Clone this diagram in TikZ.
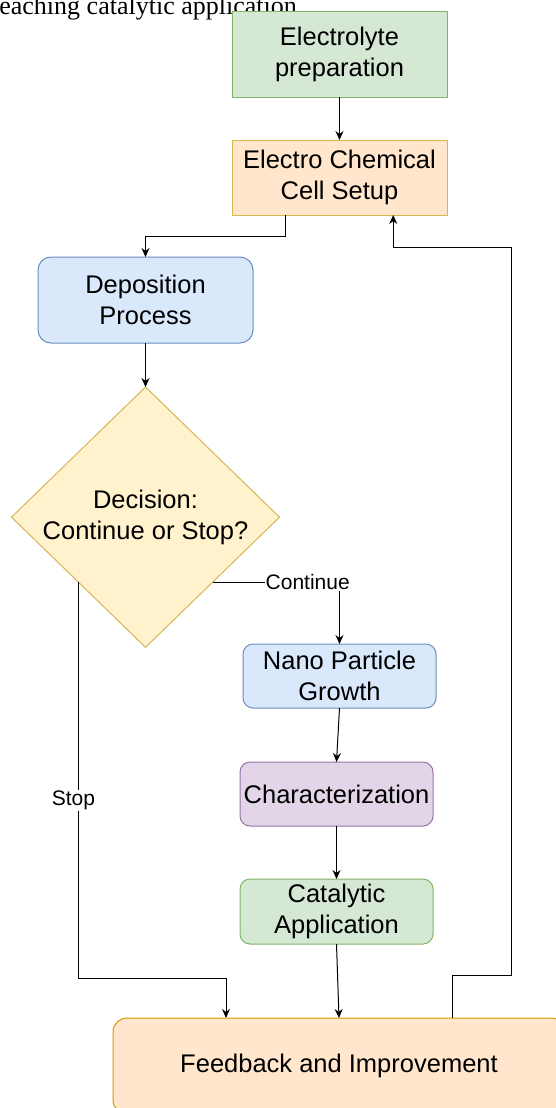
\documentclass[tikz,border=0pt]{standalone}
\usepackage{fontspec}
\setmainfont{Liberation Sans}
\newfontfamily\textserif{Liberation Serif}
\usepackage{tikz}
\usetikzlibrary{shapes.geometric, arrows.meta, positioning, calc}
\definecolor{elgreen}{HTML}{D5E8D4}
\definecolor{elgreenline}{HTML}{82B366}
\definecolor{cellorange}{HTML}{FFE6CC}
\definecolor{cellline}{HTML}{D6B656}
\definecolor{fborange}{HTML}{D79B00}
\definecolor{depblue}{HTML}{DAE8FC}
\definecolor{depblueline}{HTML}{6C8EBF}
\definecolor{decyellow}{HTML}{FFF2CC}
\definecolor{charpurple}{HTML}{E1D5E7}
\definecolor{charline}{HTML}{9673A6}

\begin{document}
\begin{tikzpicture}[
    box/.style={rectangle, draw, line width=1pt, inner sep=2pt, outer sep=0pt,
                align=center, font=\fontsize{25.5pt}{31pt}\selectfont},
    rbox/.style={box, rounded corners=10pt, minimum width=193pt, minimum height=64pt},
    decbox/.style={diamond, draw, line width=1pt, inner sep=0pt, outer sep=0pt,
                align=center, font=\fontsize{25.5pt}{31pt}\selectfont},
    lbl/.style={fill=white, inner sep=1pt, font=\fontsize{21pt}{25pt}\selectfont},
    arrow/.style={line width=1pt, -{Stealth[length=9pt, width=8pt]}}]

\useasboundingbox (0,0) rectangle (556pt,-1108pt);
\clip (0,0) rectangle (556pt,-1108pt);

% Cut-off line of the page above
\node (caption) [anchor=base west, inner sep=0pt, font=\textserif\fontsize{26pt}{30pt}\selectfont]
    at (-9.5pt,-15pt) {reaching catalytic application.};

% Preparation
\node (elec) [box, fill=elgreen, draw=elgreenline, minimum width=215pt, minimum height=85pt]
    at (339.5pt,-54.5pt) {Electrolyte\\preparation};
\node (cell) [box, fill=cellorange, draw=cellline, minimum width=215pt, minimum height=75pt,
    below=43pt of elec] {Electro Chemical\\Cell Setup};

% Deposition and decision
\node (depo) [box, rounded corners=13pt, fill=depblue, draw=depblueline,
    minimum width=215pt, minimum height=86pt, below=42pt of cell, xshift=-194pt]
    {Deposition\\Process};
\node (dec) [decbox, fill=decyellow, draw=cellline, minimum width=268pt, minimum height=256pt,
    below=44pt of depo] {Decision:\\Continue or Stop?};

% Growth chain
\node (nano) [rbox, fill=depblue, draw=depblueline] at (339.5pt,-676pt) {Nano Particle\\Growth};
\node (charac) [rbox, fill=charpurple, draw=charline, below=54pt of nano, xshift=-3pt]
    {Characterization};
\node (catal) [rbox, fill=elgreen, draw=elgreenline, minimum height=65pt, below=53pt of charac]
    {Catalytic\\Application};

% Feedback
\node (feed) [box, rounded corners=14pt, fill=cellorange, draw=fborange,
    minimum width=452pt, minimum height=96pt, below=74pt of catal, xshift=2.5pt]
    {Feedback and Improvement};

\coordinate (cellout) at ($(cell.south west)!0.25!(cell.south east)$);
\coordinate (cellin)  at ($(cell.south west)!0.75!(cell.south east)$);
\coordinate (stopin)  at ($(feed.north west)!0.25!(feed.north east)$);
\coordinate (fbout)   at ($(feed.north west)!0.75!(feed.north east)$);

% Arrows -- main flow
\draw [arrow] (elec.south) -- (cell.north);
\draw [arrow] (cellout) -- ++(0,-21pt) -| (depo.north);
\draw [arrow] (depo.south) -- (dec.north);
\draw [arrow] (dec.south east) -| node[lbl, pos=0.375] {Continue} (nano.north);
\draw [arrow] (nano.south) -- (charac.north);
\draw [arrow] (charac.south) -- (catal.north);
\draw [arrow] (catal.south) -- (feed.north);
% Stop branch
\draw [arrow] (dec.south west) -- node[lbl, pos=0.55, xshift=-5pt] {Stop} ++(0,-396pt) -| (stopin);
% Feedback loop
\draw [arrow] (fbout) -- ++(0,43pt) -| ++(59pt,728pt) -| (cellin);
\end{tikzpicture}
\end{document}
